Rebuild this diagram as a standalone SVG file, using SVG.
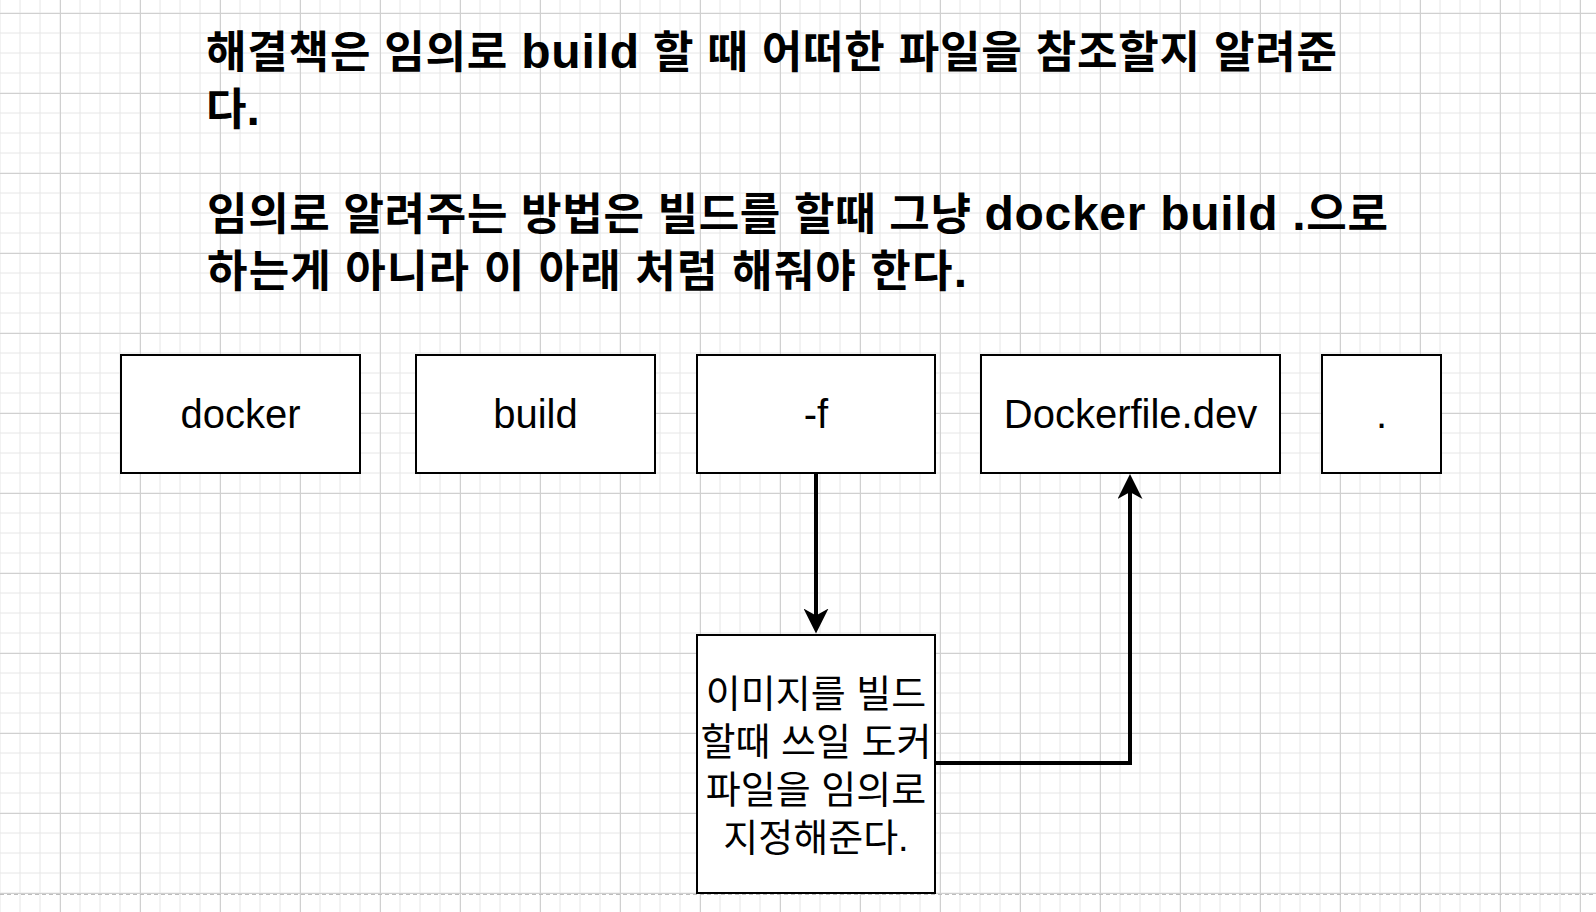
<svg xmlns="http://www.w3.org/2000/svg" width="1596" height="912" viewBox="0 0 1596 912">
<style>
.title{font-family:"Liberation Sans","Noto Sans CJK KR",sans-serif;font-weight:bold;font-size:48px;fill:#000}
.k{font-size:44px}
.box{fill:#fff;stroke:#000;stroke-width:2}
.lbl{font-family:"Liberation Sans","Noto Sans CJK KR",sans-serif;font-size:40px;fill:#000;text-anchor:middle}
.body{font-family:"Liberation Sans","Noto Sans CJK KR",sans-serif;font-size:38px;fill:#000;text-anchor:middle}
.conn{fill:none;stroke:#000;stroke-width:4;stroke-linejoin:miter}
</style>
<defs>
<pattern id="gMinor" width="20" height="20" patternUnits="userSpaceOnUse" x="-10" y="3">
<path d="M10 0V20M0 10H20" stroke="#e6e6e6" stroke-width="1" fill="none"/>
</pattern>
<pattern id="gMajor" width="80" height="80" patternUnits="userSpaceOnUse" x="20" y="-27">
<path d="M40.5 0V80M0 40.5H80" stroke="#d0d0d0" stroke-width="1" fill="none"/>
</pattern>
<marker id="arr" viewBox="0 0 25 25" markerWidth="25" markerHeight="25" refX="9" refY="12.5" orient="auto" markerUnits="userSpaceOnUse">
<path d="M0,0 L25,12.5 L0,25 L7,12.5 Z" fill="#000"/>
</marker>
</defs>
<g id="background">
<rect x="0" y="0" width="1596" height="912" fill="#fff"/>
<rect x="0" y="0" width="1596" height="912" fill="url(#gMinor)"/>
<rect x="0" y="0" width="1596" height="912" fill="url(#gMajor)"/>
<line x1="0" y1="894.5" x2="1596" y2="894.5" stroke="#bdbdbd" stroke-width="1" stroke-dasharray="4 3"/>
</g>
<g id="title" class="title">
<text x="206" y="68" textLength="1131" lengthAdjust="spacing"><tspan class="k">해결책은 임의로 </tspan>build<tspan class="k"> 할 때 어떠한 파일을 참조할지 알려준</tspan></text>
<text x="206" y="125"><tspan class="k">다</tspan>.</text>
<text x="207" y="230" textLength="1181" lengthAdjust="spacing"><tspan class="k">임의로 알려주는 방법은 빌드를 할때 그냥 </tspan>docker build .<tspan class="k">으로</tspan></text>
<text x="207" y="287" textLength="760" lengthAdjust="spacing"><tspan class="k">하는게 아니라 이 아래 처럼 해줘야 한다</tspan>.</text>
</g>
<g id="connectors">
<path class="conn" d="M816 474V617.5" marker-end="url(#arr)"/>
<path class="conn" d="M936 763H1130V490" marker-end="url(#arr)"/>
</g>
<g id="node-docker">
<rect class="box" x="121" y="355" width="239" height="118"/>
<text class="lbl" x="240.5" y="428">docker</text>
</g>
<g id="node-build">
<rect class="box" x="416" y="355" width="239" height="118"/>
<text class="lbl" x="535.5" y="428">build</text>
</g>
<g id="node-f">
<rect class="box" x="697" y="355" width="238" height="118"/>
<text class="lbl" x="816" y="428">-f</text>
</g>
<g id="node-dockerfile">
<rect class="box" x="981" y="355" width="299" height="118"/>
<text class="lbl" x="1130.5" y="428">Dockerfile.dev</text>
</g>
<g id="node-dot">
<rect class="box" x="1322" y="355" width="119" height="118"/>
<text class="lbl" x="1381.5" y="428">.</text>
</g>
<g id="node-desc">
<rect class="box" x="697" y="635" width="238" height="258"/>
<text class="body" x="816" y="707">이미지를 빌드</text>
<text class="body" x="816" y="755">할때 쓰일 도커</text>
<text class="body" x="816" y="803">파일을 임의로</text>
<text class="body" x="816" y="851">지정해준다.</text>
</g>
</svg>
